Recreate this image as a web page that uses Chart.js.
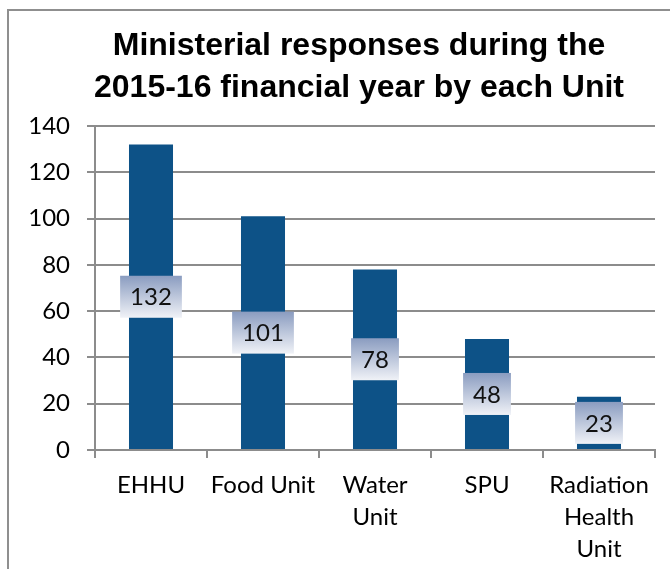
<!DOCTYPE html>
<html>
<head>
<meta charset="utf-8">
<script src="https://cdn.jsdelivr.net/npm/chart.js@4.4.1/dist/chart.umd.min.js"></script>
<style>
  html, body { margin: 0; padding: 0; background: #fff; }
  #wrap { width: 670px; height: 569px; }
</style>
</head>
<body>
<div id="wrap"><canvas id="barChart"></canvas></div>
<script>
const units = [['EHHU'], ['Food Unit'], ['Water', 'Unit'], ['SPU'], ['Radiation', 'Health', 'Unit']];
const responses = [132, 101, 78, 48, 23];
const titleLines = ['Ministerial responses during the', '2015-16 financial year by each Unit'];

const labelFont = '"Lato", "Open Sans", sans-serif';
const gridGray = '#8c8c8c';

// frame + title drawn straight on the canvas
const frameAndTitle = {
    id: 'frameAndTitle',
    beforeDraw(chart) {
        const c = chart.ctx;
        c.save();
        c.fillStyle = '#fff';
        c.fillRect(0, 0, chart.width, chart.height);
        c.strokeStyle = '#8f8f8f';
        c.lineWidth = 2;
        c.strokeRect(8, 10, 720, 620);
        c.restore();
    },
    afterDraw(chart) {
        const c = chart.ctx;
        c.save();
        c.fillStyle = '#000';
        c.font = 'bold 32px "Liberation Sans", Arial, sans-serif';
        c.textAlign = 'center';
        c.textBaseline = 'alphabetic';
        c.fillText(titleLines[0], 359, 55);
        c.fillText(titleLines[1], 359, 97);
        c.restore();
    }
};

// value boxes in the middle of each bar
const valueBoxes = {
    id: 'valueBoxes',
    afterDatasetsDraw(chart) {
        const c = chart.ctx;
        const meta = chart.getDatasetMeta(0);
        c.save();
        c.font = '24px ' + labelFont;
        c.textAlign = 'center';
        c.textBaseline = 'middle';
        meta.data.forEach((bar, i) => {
            const txt = String(chart.data.datasets[0].data[i]);
            const w = c.measureText(txt).width + 20;
            const h = 42;
            const cy = (bar.y + bar.base) / 2;
            const x0 = bar.x - w / 2, y0 = cy - h / 2;
            const g = c.createLinearGradient(0, y0, 0, y0 + h);
            g.addColorStop(0, '#8a9cc0');
            g.addColorStop(1, '#f0f2f7');
            c.fillStyle = g;
            c.fillRect(x0, y0, w, h);
            c.fillStyle = '#111';
            c.fillText(txt, bar.x, cy + 1);
        });
        c.restore();
    }
};

const ctx1 = document.getElementById('barChart');
const barChart = new Chart(ctx1, {
    type: 'bar',
    data: {
        labels: units,
        datasets: [{
            label: 'Ministerial responses',
            data: responses,
            backgroundColor: '#0d5287',
            categoryPercentage: 1,
            barPercentage: 0.393
        }]
    },
    plugins: [frameAndTitle, valueBoxes],
    options: {
        responsive: true,
        maintainAspectRatio: false,
        animation: false,
        layout: {
            padding: { left: 8, right: 15, top: 126, bottom: 0 }
        },
        plugins: {
            legend: { display: false },
            title: { display: false },
            tooltip: { enabled: false }
        },
        scales: {
            x: {
                afterFit: (scale) => { scale.height = 119; },
                grid: {
                    drawOnChartArea: false,
                    drawTicks: true,
                    tickLength: 8,
                    color: gridGray,
                    lineWidth: 2
                },
                border: { color: gridGray, width: 2 },
                ticks: {
                    color: '#000',
                    padding: 11,
                    maxRotation: 0,
                    autoSkip: false,
                    font: { family: labelFont, size: 24, lineHeight: 1.333 }
                }
            },
            y: {
                min: 0,
                max: 140,
                afterFit: (scale) => { scale.width = 87; },
                grid: {
                    color: gridGray,
                    lineWidth: 2,
                    tickLength: 8
                },
                border: { color: gridGray, width: 2 },
                ticks: {
                    stepSize: 20,
                    color: '#000',
                    padding: 17,
                    font: { family: labelFont, size: 24 }
                }
            }
        }
    }
});
</script>
</body>
</html>
